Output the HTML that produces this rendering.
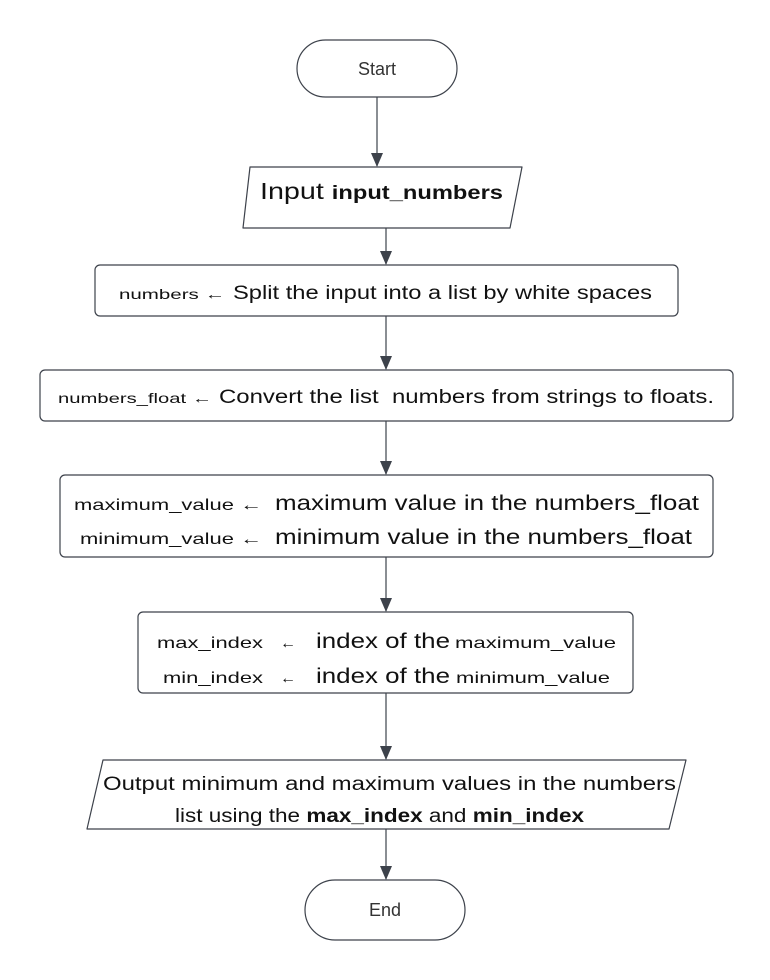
<!DOCTYPE html>
<html><head><meta charset="utf-8"><style>html,body{margin:0;padding:0;background:#fff}svg{display:block}</style></head>
<body>
<svg width="770" height="980" viewBox="0 0 770 980" xmlns="http://www.w3.org/2000/svg" font-family="Liberation Sans, Arial, sans-serif" fill="#111">
<defs><marker id="a" markerWidth="14" markerHeight="12" refX="13" refY="6" orient="auto" markerUnits="userSpaceOnUse"><path d="M0,0 L14,6 L0,12 z" fill="#3d424b"/></marker></defs>
<g stroke="#3d424b" stroke-width="1.2" fill="none">
<rect x="297" y="40" width="160" height="57" rx="28.5" fill="#fff"/>
<path d="M250,167 L522,167 L510,228 L243,228 Z" stroke-linejoin="round"/>
<rect x="95" y="265" width="583" height="51" rx="5"/>
<rect x="40" y="370" width="693" height="51" rx="5"/>
<rect x="60" y="475" width="653" height="82" rx="5"/>
<rect x="138" y="612" width="495" height="81" rx="5"/>
<path d="M103,760 L686,760 L669,829 L87,829 Z" stroke-linejoin="round"/>
<rect x="305" y="880" width="160" height="60" rx="30"/>
<line x1="377" y1="97" x2="377" y2="166" marker-end="url(#a)"/>
<line x1="386" y1="228" x2="386" y2="264" marker-end="url(#a)"/>
<line x1="386" y1="316" x2="386" y2="369" marker-end="url(#a)"/>
<line x1="386" y1="421" x2="386" y2="474" marker-end="url(#a)"/>
<line x1="386" y1="557" x2="386" y2="611" marker-end="url(#a)"/>
<line x1="386" y1="693" x2="386" y2="759" marker-end="url(#a)"/>
<line x1="386" y1="829" x2="386" y2="879" marker-end="url(#a)"/>
</g>
<text x="377" y="75" font-size="18" text-anchor="middle" fill="#333">Start</text>
<text x="260" y="199" font-size="23" textLength="243" lengthAdjust="spacingAndGlyphs">Input <tspan font-weight="bold" font-size="19">input_numbers</tspan></text>
<text x="119" y="299" font-size="14" textLength="106" lengthAdjust="spacingAndGlyphs">numbers ←</text>
<text x="233" y="299" font-size="19" textLength="419" lengthAdjust="spacingAndGlyphs">Split the input into a list by white spaces</text>
<text x="58" y="403" font-size="14" textLength="154" lengthAdjust="spacingAndGlyphs">numbers_float ←</text>
<text x="219" y="403" font-size="19" textLength="495" lengthAdjust="spacingAndGlyphs">Convert the list&#160; numbers from strings to floats.</text>
<text x="74" y="510" font-size="16" textLength="188" lengthAdjust="spacingAndGlyphs">maximum_value ←</text>
<text x="275" y="510" font-size="21" textLength="424" lengthAdjust="spacingAndGlyphs">maximum value in the numbers_float</text>
<text x="80" y="544" font-size="16" textLength="182" lengthAdjust="spacingAndGlyphs">minimum_value ←</text>
<text x="275" y="544" font-size="21" textLength="417" lengthAdjust="spacingAndGlyphs">minimum value in the numbers_float</text>
<text x="157" y="648" font-size="16" textLength="106" lengthAdjust="spacingAndGlyphs">max_index</text>
<text x="280" y="648" font-size="16">←</text>
<text x="316" y="648" font-size="21" textLength="134" lengthAdjust="spacingAndGlyphs">index of the</text>
<text x="455" y="648" font-size="16" textLength="161" lengthAdjust="spacingAndGlyphs">maximum_value</text>
<text x="163" y="683" font-size="16" textLength="100" lengthAdjust="spacingAndGlyphs">min_index</text>
<text x="280" y="683" font-size="16">←</text>
<text x="316" y="683" font-size="21" textLength="134" lengthAdjust="spacingAndGlyphs">index of the</text>
<text x="456" y="683" font-size="16" textLength="154" lengthAdjust="spacingAndGlyphs">minimum_value</text>
<text x="103" y="790" font-size="19" textLength="573" lengthAdjust="spacingAndGlyphs">Output minimum and maximum values in the numbers</text>
<text x="175" y="822" font-size="19" textLength="409" lengthAdjust="spacingAndGlyphs">list using the <tspan font-weight="bold">max_index</tspan> and <tspan font-weight="bold">min_index</tspan></text>
<text x="385" y="916" font-size="18" text-anchor="middle" fill="#333">End</text>
</svg>
</body></html>
